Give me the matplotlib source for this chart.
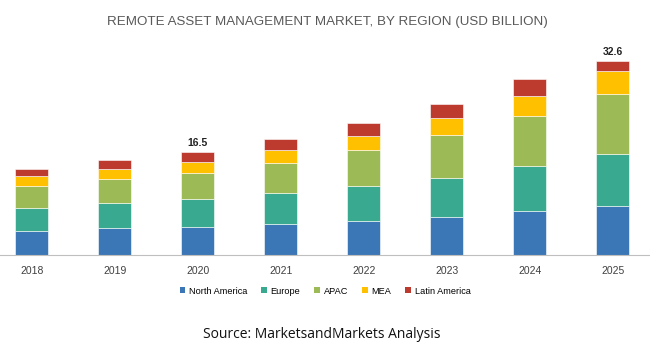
import matplotlib
matplotlib.use("Agg")
import matplotlib.pyplot as plt
from matplotlib.patches import Patch
import numpy as np

years = ["2018", "2019", "2020", "2021", "2022", "2023", "2024", "2025"]
north_america = [4.08, 4.48, 4.75, 5.20, 5.75, 6.43, 7.33, 8.17]
europe        = [3.81, 4.30, 4.60, 5.15, 5.82, 6.54, 7.65, 8.72]
apac          = [3.69, 3.98, 4.46, 5.13, 5.99, 7.21, 8.39, 10.07]
mea           = [1.63, 1.73, 1.80, 2.08, 2.45, 2.80, 3.36, 3.91]
latin_america = [1.17, 1.46, 1.68, 1.90, 2.08, 2.35, 2.80, 1.73]
series_names = ["North America", "Europe", "APAC", "MEA", "Latin America"]
annotated = {"2020": "16.5", "2025": "32.6"}

colors = ["#3B76B6", "#39A98F", "#9CBA55", "#FFC000", "#BD3A2F"]
series = [north_america, europe, apac, mea, latin_america]

W, H = 650, 351
fig = plt.figure(figsize=(W / 100, H / 100), dpi=100)
ax = fig.add_axes([0, (H - 255) / H, 1, 215 / H])

x = np.arange(len(years))
bottom = np.zeros(len(years))
for vals, c, name in zip(series, colors, series_names):
    ax.bar(x, vals, width=0.4, bottom=bottom, color=c, label=name, edgecolor="white", linewidth=0.4)
    bottom += np.array(vals)

for i, y in enumerate(years):
    if y in annotated:
        ax.text(x[i], bottom[i] + 0.7, annotated[y], ha="center", va="bottom",
                fontsize=7.5, fontweight="bold", family="Liberation Sans", color="#222222")

ax.set_xlim(-0.382, 7.45)
ax.set_ylim(0, 215 / 5.96)
ax.set_xticks(x)
ax.set_xticklabels(years, fontsize=7.5, family="Liberation Sans", color="#404040")
ax.tick_params(axis="x", length=0, pad=8)
ax.set_yticks([])
for s in ["top", "right", "left"]:
    ax.spines[s].set_visible(False)
ax.spines["bottom"].set_color("#BFBFBF")
ax.spines["bottom"].set_linewidth(0.8)

fig.text(0.503, 1 - 22 / H, "REMOTE ASSET MANAGEMENT MARKET, BY REGION (USD BILLION)",
         ha="center", va="center", fontsize=9.6, family="Liberation Sans", color="#595959")

handles = [Patch(facecolor=c, edgecolor="none") for c in colors]
fig.legend(handles, series_names, loc="center", bbox_to_anchor=(325 / W, 1 - 291 / H),
           ncol=5, frameon=False, handlelength=0.6, handleheight=0.6,
           handletextpad=0.4, columnspacing=1.55, prop={"family": "Liberation Sans", "size": 6.6})

fig.text(322 / W, 1 - 335 / H, "Source: MarketsandMarkets Analysis", ha="center", va="center",
         fontsize=10, family="Open Sans", color="#111111")

fig.savefig("out.png", dpi=100)
